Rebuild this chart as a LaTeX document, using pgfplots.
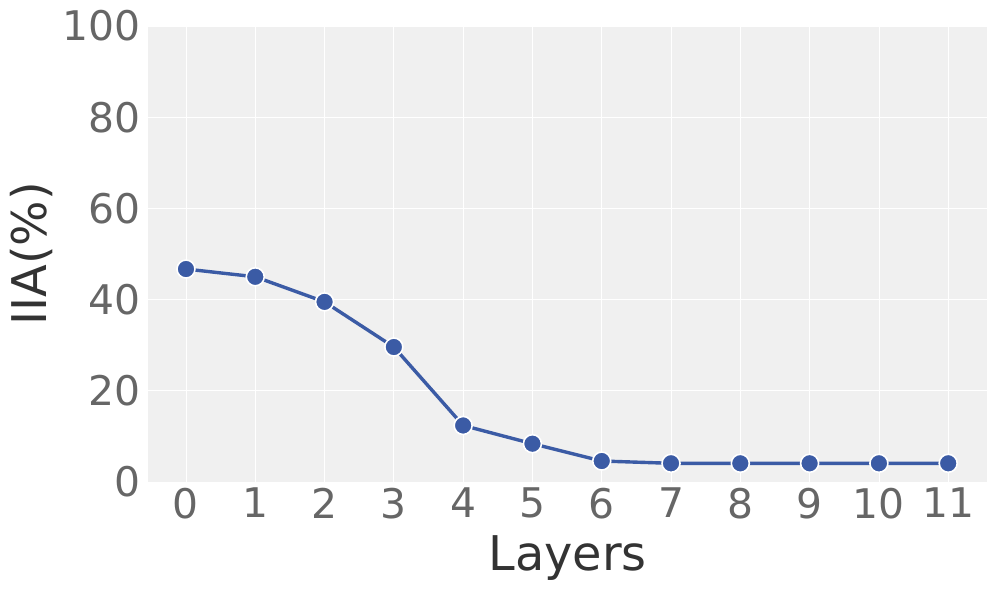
\documentclass[border=0pt]{standalone}
\usepackage{pgfplots}
\pgfplotsset{compat=1.18}
\usepackage{fontspec}
\setmainfont{DejaVu Sans}
\definecolor{bgc}{RGB}{240,240,240}
\definecolor{linec}{RGB}{59,91,165}
\definecolor{tickc}{RGB}{102,102,102}
\definecolor{labc}{RGB}{51,51,51}
\begin{document}
\begin{tikzpicture}
\useasboundingbox (-148bp,-109bp) rectangle (849bp,482bp);
\begin{axis}[
  at={(0,0)}, anchor=south west,
  scale only axis,
  width=839bp, height=456bp,
  xmin=-0.548, xmax=11.56,
  ymin=0, ymax=100,
  xtick={0,1,...,11},
  ytick={0,20,...,100},
  axis background/.style={fill=bgc},
  axis line style={draw=none},
  major tick length=0pt,
  grid=major,
  major grid style={white, line width=0.8bp},
  /pgf/number format/assume math mode=true,
  ticklabel style={font=\fontsize{41}{48}\selectfont, text=tickc, inner sep=0pt},
  xticklabel style={anchor=north, yshift=-6bp},
  yticklabel style={anchor=east, xshift=-7bp},
  xlabel={Layers},
  ylabel={IIA(\%)},
  label style={font=\fontsize{48}{56}\selectfont, text=labc, inner sep=0pt},
  xlabel style={at={(axis description cs:0.5,0)}, anchor=base, yshift=-88bp},
  ylabel style={at={(axis description cs:0,0.5)}, anchor=base, yshift=101bp},
  clip=false,
]
\addplot[color=linec, line width=3.4bp, mark=*, mark size=9bp,
  mark options={fill=linec, draw=white, line width=1.6bp}]
  coordinates {
  (0,46.7) (1,45.0) (2,39.5) (3,29.6) (4,12.4) (5,8.4)
  (6,4.6) (7,4.1) (8,4.1) (9,4.1) (10,4.1) (11,4.1)
  };
\end{axis}
\end{tikzpicture}
\end{document}
